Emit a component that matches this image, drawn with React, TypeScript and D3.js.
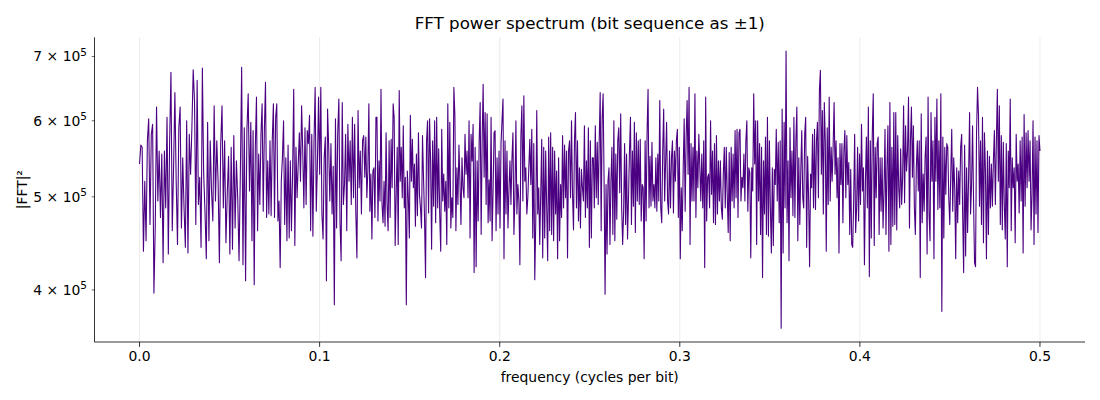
import React from 'react';
import * as d3 from 'd3';

const WIDTH = 1100;
const HEIGHT = 400;
const margin = { l: 94.5, r: 15, t: 37.3, b: 58 };

// |FFT|^2 in thousands in 8 strips, left to right
const strip1 = [541, 566, 563, 439, 519, 450, 572, 603, 468, 581, 595, 397, 464, 620, 495, 558, 476, 554, 427, 558, 487, 605, 436, 572, 674, 461, 536, 642, 519, 446, 590, 620, 464, 549, 487, 443, 600, 437, 581, 528, 590, 678, 630, 468, 661, 491, 524, 443, 681, 528, 483, 431, 598, 450, 572, 507, 472, 622, 495, 572, 519, 427, 568, 622, 487, 572, 448, 503, 551, 436, 563, 441, 579, 464, 545, 499, 429, 528, 682, 425, 590, 409, 586, 640, 507];
const strip2 = [598, 450, 586, 405, 563, 635, 461, 554, 491, 581, 625, 483, 586, 658, 476, 545, 480, 572, 478, 572, 625, 476, 605, 625, 472, 495, 422, 519, 549, 600, 468, 549, 450, 566, 453, 545, 461, 528, 647, 445, 563, 499, 541, 583, 519, 622, 558, 487, 590, 491, 586, 568, 608, 461, 581, 455, 572, 650, 483, 541, 635, 528, 650, 480, 452, 549, 577, 409, 617, 563, 495, 568, 480, 538, 386, 603, 464, 583, 632, 472, 429, 627, 491, 515, 581, 461, 595, 519, 572, 491, 605, 499, 595, 483, 432, 615, 511, 558, 480, 572, 579];
const strip3 = [524, 577, 499, 532, 625, 483, 528, 452, 532, 536, 476, 605, 605, 472, 545, 495, 647, 491, 470, 519, 466, 583, 491, 461, 572, 476, 574, 511, 625, 605, 445, 503, 563, 446, 645, 519, 563, 499, 593, 487, 524, 386, 532, 499, 453, 608, 519, 574, 511, 541, 466, 554, 478, 583, 503, 487, 464, 579, 524, 476, 412, 572, 600, 481, 603, 545, 441, 572, 489, 600, 470, 605, 487, 561, 480, 439, 588, 495, 528, 483, 519, 446, 625, 487, 598, 464, 499, 476, 650, 608, 461, 536, 491, 566, 519, 468, 549, 511, 499, 581, 528, 558, 499, 600, 453, 581, 545, 595, 417, 563, 423, 545, 472];
const strip4 = [572, 627, 457, 572, 655, 524, 612, 491, 610, 470, 521, 472, 605, 450, 507, 583, 586, 461, 549, 480, 558, 464, 568, 600, 632, 431, 572, 480, 558, 464, 509, 545, 491, 547, 583, 457, 499, 600, 480, 515, 495, 425, 577, 622, 495, 637, 519, 536, 480, 499, 536, 574, 515, 588, 453, 568, 410, 472, 615, 480, 511, 446, 503, 574, 432, 563, 453, 558, 487, 429, 577, 461, 583, 457, 563, 450, 558, 480, 532, 431, 549, 450, 515, 476, 579, 487, 566, 499, 558, 432, 558, 572, 499, 600, 503, 462, 572, 612, 487, 572, 472, 536, 464, 534, 511, 495, 593, 476, 545, 487, 590, 443, 572, 453, 549];
const strip5 = [549, 487, 593, 499, 570, 491, 572, 642, 461, 603, 640, 519, 396, 515, 436, 519, 536, 446, 519, 563, 457, 600, 450, 554, 474, 572, 590, 505, 610, 487, 446, 483, 568, 468, 554, 452, 499, 558, 605, 468, 558, 489, 598, 459, 583, 495, 572, 491, 574, 472, 515, 511, 431, 572, 472, 583, 647, 487, 551, 489, 570, 495, 515, 487, 549, 483, 554, 495, 630, 487, 470, 558, 617, 495, 545, 598, 495, 480, 558, 487, 549, 572, 481, 558, 519, 572, 588, 476, 563, 431, 511, 461, 536, 603, 483, 577, 630, 528, 650, 446, 568, 495, 563, 495, 640, 476, 558, 511, 581, 536, 495, 554, 487, 572, 422, 635, 472, 524];
const strip6 = [528, 487, 600, 503, 558, 470, 568, 468, 579, 480, 545, 495, 545, 487, 474, 528, 563, 487, 563, 503, 459, 556, 450, 563, 495, 554, 487, 586, 499, 588, 476, 583, 588, 495, 524, 511, 554, 495, 572, 600, 483, 536, 530, 432, 536, 507, 640, 541, 600, 446, 600, 495, 568, 457, 563, 412, 545, 480, 577, 457, 605, 455, 572, 487, 437, 536, 445, 534, 515, 588, 495, 570, 470, 572, 365, 617, 437, 598, 487, 709, 470, 545, 429, 590, 499, 558, 478, 605, 476, 572, 620, 450, 549, 468, 532, 586, 499, 487, 581, 605, 443, 551, 499, 423, 528, 511, 581, 487, 588, 485, 572, 598, 499, 645, 677, 528, 615];
const strip7 = [480, 627, 572, 439, 590, 491, 635, 495, 563, 519, 563, 627, 528, 572, 499, 549, 437, 568, 515, 568, 470, 558, 586, 499, 579, 515, 543, 457, 534, 446, 443, 495, 581, 459, 487, 563, 472, 554, 491, 595, 507, 536, 425, 519, 577, 487, 620, 413, 572, 453, 581, 640, 445, 563, 499, 568, 577, 457, 549, 483, 549, 464, 507, 588, 457, 536, 593, 439, 627, 446, 563, 466, 612, 468, 612, 462, 579, 511, 487, 561, 491, 524, 622, 493, 593, 532, 558, 635, 464, 572, 620, 524, 593, 487, 457, 536, 572, 507, 572, 412, 610, 470, 528, 483, 551, 577, 436, 635, 480, 450, 612, 519, 572, 431, 605, 519, 632];
const strip8 = [485, 572, 487, 640, 380, 577, 453, 563, 503, 568, 563, 499, 468, 528, 588, 483, 549, 511, 431, 536, 470, 532, 491, 563, 581, 480, 417, 566, 434, 536, 459, 524, 612, 480, 515, 593, 495, 427, 423, 581, 650, 608, 489, 572, 468, 605, 448, 583, 532, 431, 558, 457, 551, 487, 541, 489, 545, 586, 491, 570, 647, 519, 622, 468, 579, 462, 570, 491, 452, 568, 423, 558, 511, 632, 461, 549, 511, 536, 448, 581, 519, 541, 481, 572, 495, 577, 437, 609, 489, 583, 511, 586, 519, 572, 462, 503, 600, 446, 577, 480, 572, 459, 579, 558];

const strips = [strip1, strip2, strip3, strip4, strip5, strip6, strip7, strip8];
// frequency where each strip starts (last entry = end of spectrum)
const stripEdges = [0, 0.0618, 0.1251, 0.1886, 0.252, 0.316, 0.3797, 0.4433, 0.5];

const xTicks = [0, 0.1, 0.2, 0.3, 0.4, 0.5];
const yTicks = [4e5, 5e5, 6e5, 7e5];

type Pt = { f: number; p: number };

const spectrum: Pt[] = strips.flatMap((s, k) => {
  const f0 = stripEdges[k];
  const f1 = stripEdges[k + 1];
  const last = k === strips.length - 1;
  const step = (f1 - f0) / (last ? s.length - 1 : s.length);
  return s.map((v, j) => ({ f: f0 + j * step, p: v * 1000 }));
});

const App = () => {
  const w = WIDTH - margin.l - margin.r;
  const h = HEIGHT - margin.t - margin.b;

  const xScale = d3.scaleLinear().domain([-0.025, 0.525]).range([0, w]);

  // matplotlib-like 5% margin in log space
  const [lo, hi] = d3.extent(spectrum, (d) => Math.log10(d.p)) as [number, number];
  const pad = (hi - lo) * 0.05;
  const yScale = d3
    .scaleLog()
    .domain([10 ** (lo - pad), 10 ** (hi + pad)])
    .range([h, 0]);

  const line = d3
    .line<Pt>()
    .x((d) => xScale(d.f))
    .y((d) => yScale(d.p));

  const font = 'DejaVu Sans, sans-serif';

  return (
    <svg
      width={WIDTH}
      height={HEIGHT}
      style={{ position: 'absolute', left: 0, top: 0, background: '#fff' }}
      fontFamily={font}
    >
      <rect width={WIDTH} height={HEIGHT} fill="#fff" />
      <text x={margin.l + w / 2} y={29} textAnchor="middle" fontSize={16.7}>
        FFT power spectrum (bit sequence as ±1)
      </text>
      <g transform={`translate(${margin.l}, ${margin.t})`}>
        {xTicks.map((t) => (
          <line key={'g' + t} x1={xScale(t)} x2={xScale(t)} y1={0} y2={h} stroke="#e6e6e6" strokeWidth={0.8} />
        ))}
        <path d={line(spectrum) || ''} fill="none" stroke="#4b0082" strokeWidth={1.1} strokeLinejoin="round" />
        <line x1={0} x2={0} y1={0} y2={h} stroke="#000" strokeWidth={0.8} />
        <line x1={0} x2={w} y1={h} y2={h} stroke="#000" strokeWidth={0.8} />
        {xTicks.map((t) => (
          <g key={'x' + t} transform={`translate(${xScale(t)}, ${h})`}>
            <line y2={4.9} stroke="#000" strokeWidth={0.8} />
            <text y={19} textAnchor="middle" fontSize={13.9}>
              {t.toFixed(1)}
            </text>
          </g>
        ))}
        {yTicks.map((t) => (
          <g key={'y' + t} transform={`translate(0, ${yScale(t)})`}>
            <line x2={-2.8} stroke="#000" strokeWidth={0.6} />
            <text x={-7.5} dy="0.35em" textAnchor="end" fontSize={13.9}>
              {`${t / 1e5} × 10`}
              <tspan dy={-5.5} fontSize={10.5}>5</tspan>
            </text>
          </g>
        ))}
        <text x={w / 2} y={h + 40} textAnchor="middle" fontSize={13.9}>
          frequency (cycles per bit)
        </text>
      </g>
      <text
        transform={`translate(26.5, ${margin.t + h / 2}) rotate(-90)`}
        textAnchor="middle"
        fontSize={13.9}
      >
        |FFT|²
      </text>
    </svg>
  );
};

export default App;
